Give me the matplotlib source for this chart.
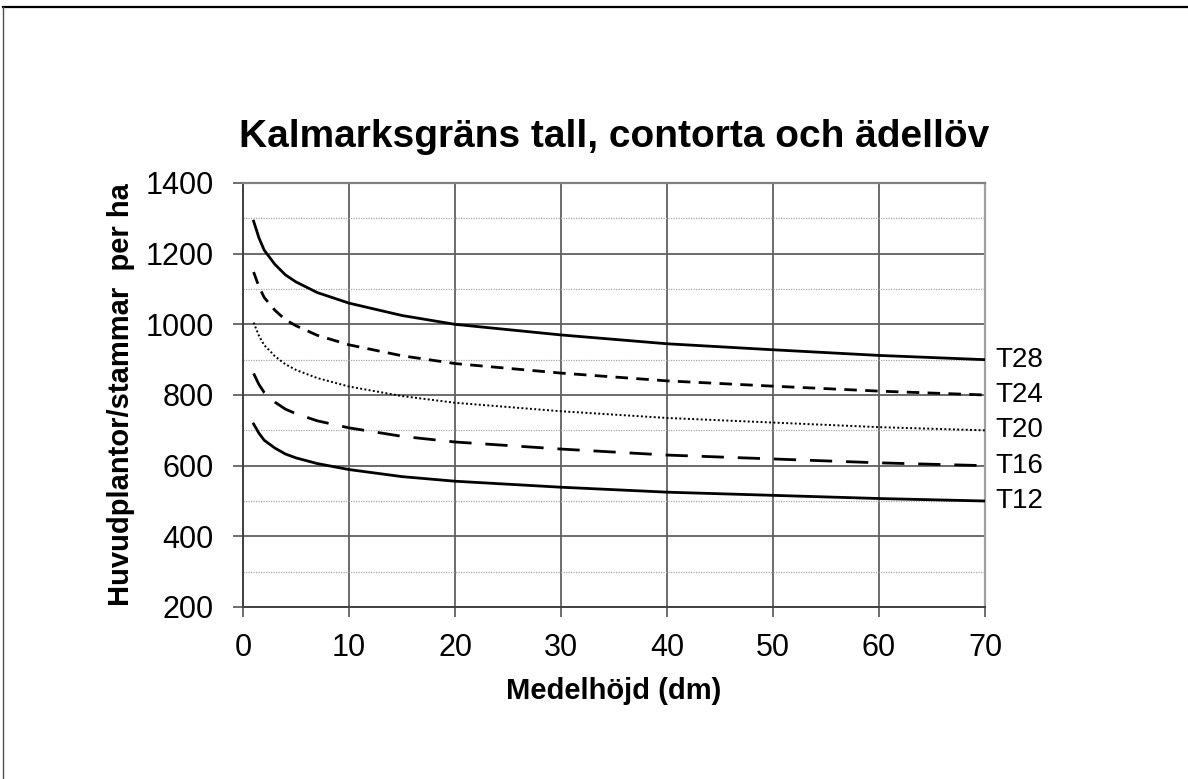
import matplotlib.pyplot as plt
from matplotlib.lines import Line2D
from matplotlib.ticker import MultipleLocator

# values
hojd = [1, 1.5, 2, 2.5, 3, 4, 5, 7, 10, 15, 20, 30, 40, 50, 60, 70]
t28 = [1292, 1245, 1210, 1190, 1170, 1140, 1120, 1090, 1060, 1025, 1000, 970, 945, 928, 912, 900]
t24 = [1148, 1107, 1076, 1058, 1040, 1013, 996, 969, 942, 911, 889, 862, 840, 825, 811, 800]
t20 = [1005, 968, 941, 926, 910, 887, 871, 848, 824, 797, 778, 754, 735, 722, 709, 700]
t16 = [861, 830, 807, 793, 780, 760, 747, 727, 707, 683, 667, 647, 630, 619, 608, 600]
t12 = [718, 692, 672, 661, 650, 633, 622, 606, 589, 569, 556, 539, 525, 516, 507, 500]
namn = ['T28', 'T24', 'T20', 'T16', 'T12']

plt.rcParams['font.family'] = ['Liberation Sans', 'DejaVu Sans']

fig = plt.figure(figsize=(11.88, 7.79), dpi=100)
ax = fig.add_axes([243/1188, 1-607/779, (985-243)/1188, (607-183)/779])

stil = ['-', (0, (4.5, 3)), (0, (1, 1.2)), (0, (8, 5)), '-']
serier = [t28, t24, t20, t16, t12]
for y, ls, n in zip(serier, stil, namn):
    lw = 1.4 if n == 'T20' else 2.0
    ax.plot(hojd, y, color='black', lw=lw, linestyle=ls, zorder=3)
    ax.text(71.0, y[-1], n, fontsize=20, va='center', ha='left', clip_on=False)

ax.set_xlim(0, 70)
ax.set_ylim(200, 1400)
ax.xaxis.set_major_locator(MultipleLocator(10))
ax.yaxis.set_major_locator(MultipleLocator(200))
ax.yaxis.set_minor_locator(MultipleLocator(100))
ax.tick_params(axis='y', which='minor', length=0)
ax.tick_params(which='major', direction='out', length=7, width=1.2, color='#555555',
               labelsize=22)
ax.tick_params(axis='x', pad=12)
ax.tick_params(axis='y', pad=14)

ax.grid(True, which='major', axis='both', color='#606060', lw=1.3, zorder=1)
ax.grid(True, which='minor', axis='y', color='#a8a8a8', lw=0.9, linestyle=(0, (1, 1)), zorder=1)

for s in ['left', 'bottom']:
    ax.spines[s].set_color('#404040')
    ax.spines[s].set_linewidth(1.4)
ax.spines['top'].set_color('#808080')
ax.spines['top'].set_linewidth(1.6)
ax.spines['right'].set_color('#a0a0a0')
ax.spines['right'].set_linewidth(1.6)

ax.set_title('Kalmarksgräns tall, contorta och ädellöv', fontsize=28, fontweight='bold', pad=26)
ax.set_xlabel('Medelhöjd (dm)', fontsize=21, fontweight='bold')
ax.xaxis.set_label_coords(0.5, -0.165)
ax.set_ylabel('Huvudplantor/stammar  per ha', fontsize=21, fontweight='bold')
ax.yaxis.set_label_coords(-0.145, 0.5)

# ram runt bilden (bara överkant och vänsterkant syns)
x0, y0 = 3/1188, 1-7/779
fig.add_artist(Line2D([x0, 1], [y0, y0], color='black', lw=1.6, transform=fig.transFigure))
fig.add_artist(Line2D([x0, x0], [0, y0], color='#505050', lw=1.0, transform=fig.transFigure))

fig.savefig('out.png', dpi=100, facecolor='white')
